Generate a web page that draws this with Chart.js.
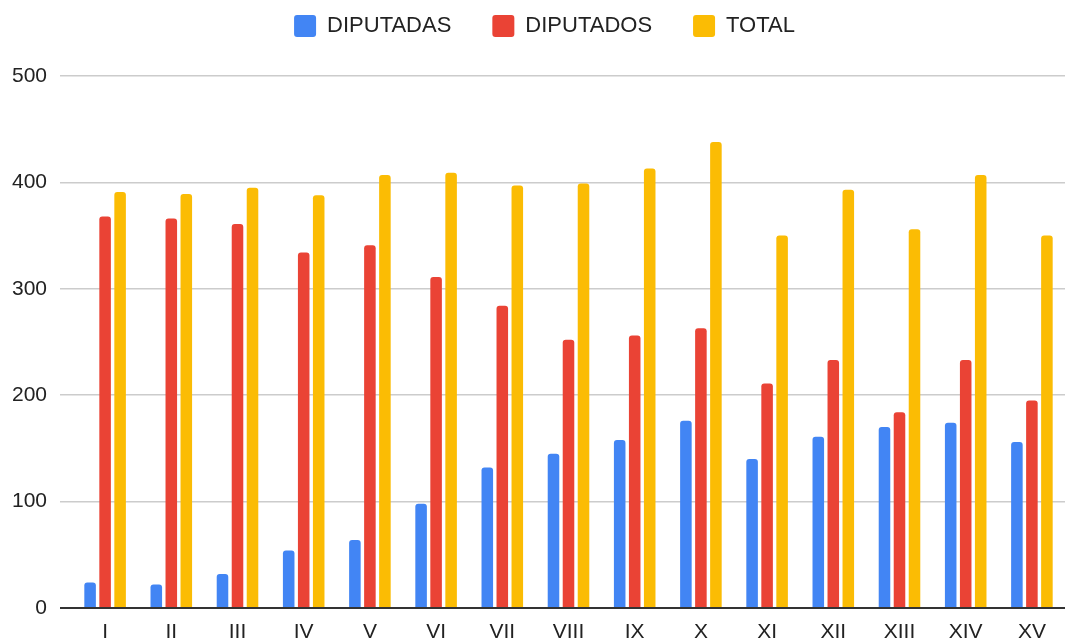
<!DOCTYPE html>
<html>
<head>
<meta charset="utf-8">
<script src="https://cdn.jsdelivr.net/npm/chart.js@4/dist/chart.umd.min.js"></script>
<style>
    html, body { margin: 0; padding: 0; background: #ffffff; }
    canvas { display: block; }
</style>
</head>
<body>
<canvas id="grafico" width="1065" height="640"></canvas>
<script>
// legislaturas
const legislaturas = ["I", "II", "III", "IV", "V", "VI", "VII", "VIII", "IX", "X", "XI", "XII", "XIII", "XIV", "XV"];
const diputadas = [24, 22, 32, 54, 64, 98, 132, 145, 158, 176, 140, 161, 170, 174, 156];
const diputados = [368, 366, 361, 334, 341, 311, 284, 252, 256, 263, 211, 233, 184, 233, 195];
const total = [391, 389, 395, 388, 407, 409, 397, 399, 413, 438, 350, 393, 356, 407, 350];
const ticksY = [0, 100, 200, 300, 400, 500];

const fuente = "'Liberation Sans', Arial, sans-serif";

// deja la leyenda con alto fijo para que el area empiece en y=76
// y la corre un poco a la derecha
const altoLeyenda = {
    id: "altoLeyenda",
    beforeInit(chart) {
        const fitOriginal = chart.legend.fit;
        chart.legend.fit = function () {
            fitOriginal.bind(chart.legend)();
            this.height = 102;
            if (this.lineWidths && this.lineWidths.length) {
                this.lineWidths[0] -= 24;
            }
        };
    }
};

function serie(label, data, color) {
    return {
        label: label,
        data: data,
        backgroundColor: color,
        borderColor: color,
        borderWidth: 0,
        borderRadius: 3,
        categoryPercentage: 0.68,
        barPercentage: 0.77
    };
}

const ctx = document.getElementById("grafico").getContext("2d");

new Chart(ctx, {
    type: "bar",
    data: {
        labels: legislaturas,
        datasets: [
            serie("DIPUTADAS", diputadas, "#4285F4"),
            serie("DIPUTADOS", diputados, "#EA4335"),
            serie("TOTAL", total, "#FBBC04")
        ]
    },
    options: {
        responsive: false,
        animation: false,
        devicePixelRatio: 1,
        layout: { padding: { top: -26, left: 0, right: 0, bottom: 0 } },
        plugins: {
            legend: {
                position: "top",
                align: "center",
                labels: {
                    boxWidth: 22,
                    boxHeight: 22,
                    useBorderRadius: true,
                    borderRadius: 3,
                    padding: 41,
                    color: "#222222",
                    font: { family: fuente, size: 22 }
                }
            },
            tooltip: { enabled: false }
        },
        scales: {
            x: {
                grid: { display: false, drawTicks: false },
                border: { display: false },
                ticks: {
                    color: "#222222",
                    padding: 12,
                    font: { family: fuente, size: 21 }
                },
                afterFit(scale) { scale.height = 32; }
            },
            y: {
                min: 0,
                max: 500,
                afterBuildTicks(scale) {
                    scale.ticks = ticksY.map(v => ({ value: v }));
                },
                grid: {
                    drawTicks: true,
                    tickLength: 12,
                    color: c => (c.tick && c.tick.value === 0 ? "#333333" : "#cccccc"),
                    lineWidth: c => (c.tick && c.tick.value === 0 ? 2 : 1.5)
                },
                border: { display: false },
                ticks: {
                    color: "#222222",
                    padding: 13,
                    font: { family: fuente, size: 21 }
                },
                afterFit(scale) { scale.width = 72; }
            }
        }
    },
    plugins: [altoLeyenda]
});
</script>
</body>
</html>
